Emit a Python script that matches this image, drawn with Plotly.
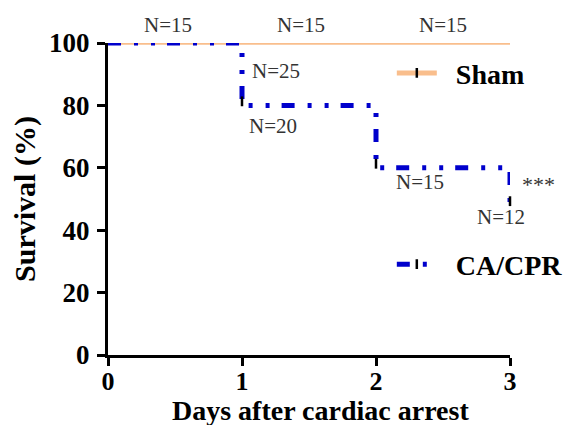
import plotly.graph_objects as go

# ---- data ----
days = [0, 1, 2, 3]
sham_days = [0, 3]
sham_surv = [100, 100]
cpr_surv = [100, 80, 60, 48]
sham_censor_days = [1, 2, 3]
sham_censor_surv = [100, 100, 100]
cpr_censor_days = [1, 2, 3]
cpr_censor_surv = [80, 60, 48]
group_names = ["Sham", "CA/CPR"]
top_n_labels = ["N=15", "N=15", "N=15"]
cpr_n_labels = ["N=25", "N=20", "N=15", "N=12"]
sig_label = "***"
x_ticks = [0, 1, 2, 3]
y_ticks = [0, 20, 40, 60, 80, 100]

FONT = "Liberation Serif, Times New Roman, serif"
ORANGE = "#F9BE8C"
BLUE = "#0000CC"
CPR_DASH = "13px,13px,4px,13px,4px,12px"
CENSOR_OFF = 1.3

fig = go.Figure()

fig.add_trace(go.Scatter(x=sham_days, y=sham_surv, mode="lines",
                         line=dict(color=ORANGE, width=3.5),
                         showlegend=False, cliponaxis=False))
fig.add_trace(go.Scatter(x=days, y=cpr_surv, mode="lines", line_shape="hv",
                         line=dict(color=BLUE, width=5, dash=CPR_DASH),
                         showlegend=False, cliponaxis=False))
censor_marker = dict(symbol="line-ns", size=7, color="black",
                     line=dict(color="black", width=2.5))
fig.add_trace(go.Scatter(x=sham_censor_days,
                         y=[v + CENSOR_OFF for v in sham_censor_surv],
                         mode="markers", marker=censor_marker,
                         showlegend=False, cliponaxis=False))
fig.add_trace(go.Scatter(x=cpr_censor_days,
                         y=[v + CENSOR_OFF for v in cpr_censor_surv],
                         mode="markers", marker=censor_marker,
                         showlegend=False, cliponaxis=False))

# legend entries
NB = "\u00a0\u00a0"
fig.add_trace(go.Scatter(x=[None], y=[None], mode="lines+markers",
                         name=NB + group_names[0],
                         line=dict(color=ORANGE, width=5),
                         marker=censor_marker, legend="legend"))
fig.add_trace(go.Scatter(x=[None], y=[None], mode="lines+markers",
                         name=NB + group_names[1],
                         line=dict(color=BLUE, width=5, dash=CPR_DASH),
                         marker=censor_marker, legend="legend2"))

N_FONT = dict(family=FONT, size=21, color="#333333")
ann = []
top_x = [0.45, 1.44, 2.5]
for t, xv in zip(top_n_labels, top_x):
    ann.append(dict(x=xv, y=1.058, xref="x", yref="paper", text=t,
                    yanchor="middle", showarrow=False, font=N_FONT))
cpr_pos = [(1.25, 91.0), (1.23, 73.4), (2.33, 55.4), (2.93, 44.2)]
for t, (xv, yv) in zip(cpr_n_labels, cpr_pos):
    ann.append(dict(x=xv, y=yv, xref="x", yref="y", text=t,
                    showarrow=False, font=N_FONT))
ann.append(dict(x=1.07, y=54.8, xref="paper", yref="y", text=sig_label,
                xanchor="center", yanchor="middle", showarrow=False,
                font=dict(family=FONT, size=22, color="#333333")))
ann.append(dict(x=0.528, y=-0.177, xref="paper", yref="paper",
                text="Days after cardiac arrest", showarrow=False,
                xanchor="center", yanchor="middle",
                font=dict(family=FONT, size=28, color="black", weight="bold")))

legend_common = dict(xanchor="left", yanchor="middle", bgcolor="rgba(0,0,0,0)",
                     font=dict(family=FONT, size=28, color="black", weight="bold"),
                     itemwidth=40)

fig.update_layout(
    width=572, height=425,
    margin=dict(l=100, r=70, t=35, b=78, autoexpand=False),
    plot_bgcolor="white", paper_bgcolor="white",
    font=dict(family=FONT, color="black"),
    annotations=ann,
    legend=dict(legend_common, x=0.706, y=0.903),
    legend2=dict(legend_common, x=0.706, y=0.29),
    xaxis=dict(range=[0, 3], tickvals=x_ticks, showgrid=False, zeroline=False,
               showline=True, linecolor="black", linewidth=3,
               ticks="outside", ticklen=8, tickwidth=3, tickcolor="black",
               ticklabelstandoff=-7,
               tickfont=dict(family=FONT, size=26, color="black", weight="bold")),
    yaxis=dict(range=[0, 100], tickvals=y_ticks, showgrid=False, zeroline=False,
               showline=True, linecolor="black", linewidth=3,
               ticks="outside", ticklen=8, tickwidth=3, tickcolor="black",
               ticklabelstandoff=2,
               tickfont=dict(family=FONT, size=27, color="black", weight="bold"),
               title=dict(text="Survival (%)", standoff=10,
                          font=dict(family=FONT, size=30, color="black",
                                    weight="bold"))),
)

fig.write_html("out.html")
